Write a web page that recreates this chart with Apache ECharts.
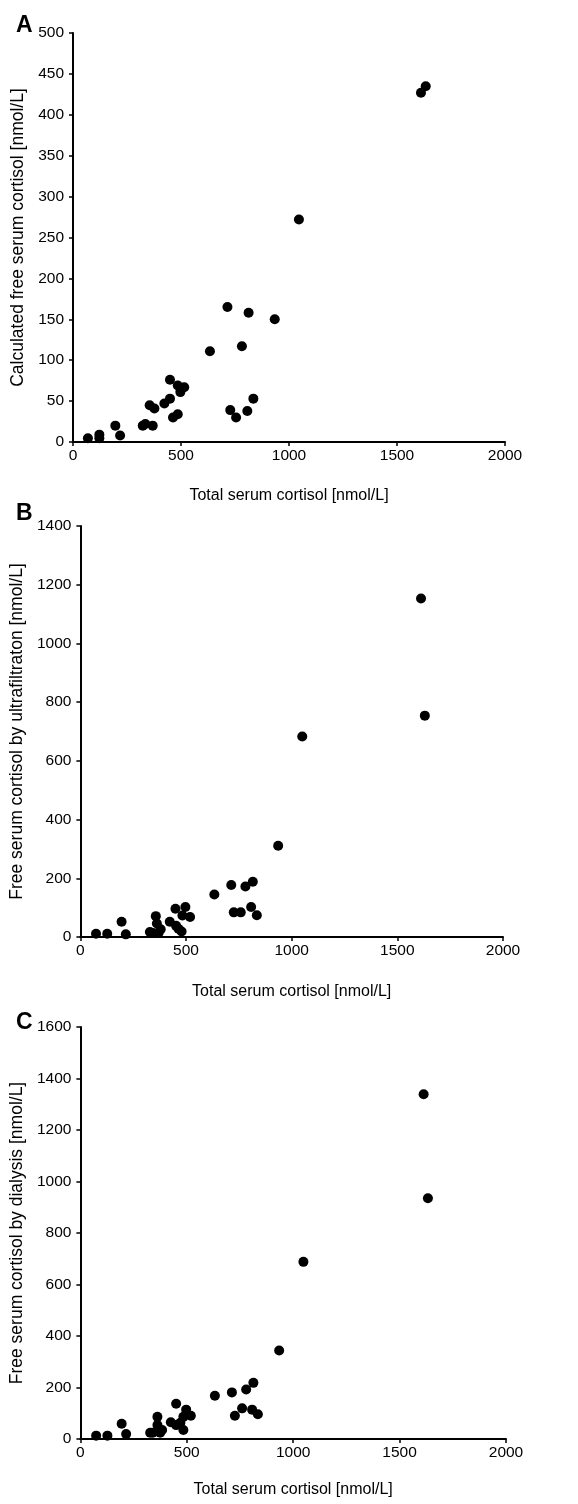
<!DOCTYPE html>
<html>
<head>
<meta charset="utf-8">
<script src="https://cdn.jsdelivr.net/npm/echarts@6/dist/echarts.min.js"></script>
<style>
  html, body { margin: 0; padding: 0; background: #fff; }
  #main { width: 578px; height: 1504px; }
</style>
</head>
<body>
<div id="main"></div>
<script>
// panel A - calculated free cortisol
var totalA = [69, 122, 122, 196, 218, 323, 335, 369, 355, 377, 423, 449, 449, 463, 485, 485, 497, 515, 634, 715, 728, 755, 782, 807, 813, 835, 934, 1046, 1611, 1633];
var freeCalc = [4.5, 9, 4.5, 20, 8, 20, 22, 20, 45, 41, 47, 53, 76, 30, 34, 69, 61, 67, 111, 165, 39, 30, 117, 38, 158, 53, 150, 272, 427, 435];

// panel B - ultrafiltration
var totalB = [74, 127, 195, 215, 329, 344, 357, 362, 370, 380, 423, 450, 453, 464, 479, 483, 497, 519, 634, 714, 726, 759, 781, 808, 816, 835, 936, 1050, 1612, 1630];
var freeUltra = [11, 11, 52, 9, 17, 14, 71, 46, 14, 26, 52, 96, 38, 28, 19, 73, 102, 68, 145, 177, 84, 84, 172, 102, 188, 74, 311, 683, 1153, 754];

// panel C - dialysis
var totalC = [74, 127, 194, 215, 328, 340, 362, 362, 375, 384, 425, 450, 450, 470, 484, 484, 497, 519, 632, 712, 726, 760, 779, 807, 813, 834, 934, 1048, 1613, 1633];
var freeDial = [13, 13, 59, 19, 24, 24, 86, 54, 24, 35, 65, 137, 54, 63, 35, 86, 114, 90, 168, 181, 90, 119, 192, 114, 218, 96, 344, 688, 1339, 935];

var xTicks = [0, 500, 1000, 1500, 2000];
var xName = 'Total serum cortisol [nmol/L]';
var yNames = ['Calculated free serum cortisol [nmol/L]', 'Free serum cortisol by ultrafiltraton [nmol/L]', 'Free serum cortisol by dialysis [nmol/L]'];
var yMax = [500, 1400, 1600];
var yStep = [50, 200, 200];
var letters = ['A', 'B', 'C'];

var font = 'Liberation Sans, Arial, sans-serif';
var grids = [
    { left: 73, right: 73, top: 33, height: 409 },
    { left: 79, right: 75, top: 526, height: 411 },
    { left: 80, right: 72, top: 1027, height: 412 }
];
var yGaps = [46, 50, 51];
var xGaps = [46, 47, 43];
var letterTops = [9, 497, 1006];

function pairs(xs, ys) {
    return xs.map(function (x, i) { return [x, ys[i]]; });
}
var seriesData = [pairs(totalA, freeCalc), pairs(totalB, freeUltra), pairs(totalC, freeDial)];

var axisLine = { show: true, lineStyle: { color: '#000', width: 2 } };
var axisTick = { show: true, inside: false, length: 4, lineStyle: { color: '#000', width: 1.5 } };
var plain = function (v) { return String(v); };   // no thousands separator

var option = {
    animation: false,
    backgroundColor: '#fff',
    title: [],
    grid: grids,
    xAxis: [],
    yAxis: [],
    series: []
};

for (var i = 0; i < 3; i++) {
    option.title.push({
        text: letters[i], left: 11, top: letterTops[i],
        textStyle: { fontFamily: font, fontSize: 23, fontWeight: 'bold', color: '#000' }
    });
    option.xAxis.push({
        type: 'value', gridIndex: i, min: xTicks[0], max: xTicks[xTicks.length - 1], interval: 500,
        name: xName, nameLocation: 'middle', nameGap: xGaps[i],
        nameTextStyle: { fontFamily: font, fontSize: 16, color: '#000' },
        axisLine: axisLine, axisTick: axisTick,
        axisLabel: { margin: 6, fontFamily: font, fontSize: 15.5, color: '#000', formatter: plain },
        splitLine: { show: false }
    });
    option.yAxis.push({
        type: 'value', gridIndex: i, min: 0, max: yMax[i], interval: yStep[i],
        name: yNames[i], nameLocation: 'middle', nameGap: yGaps[i],
        nameTextStyle: { fontFamily: font, fontSize: 17.5, color: '#000' },
        axisLine: axisLine, axisTick: axisTick,
        axisLabel: { margin: 9, fontFamily: font, fontSize: 15.5, color: '#000', formatter: plain },
        splitLine: { show: false }
    });
    option.series.push({
        type: 'scatter', xAxisIndex: i, yAxisIndex: i,
        symbol: 'circle', symbolSize: 10,
        itemStyle: { color: '#000', opacity: 1 },
        data: seriesData[i]
    });
}

var chart = echarts.init(document.getElementById('main'));
chart.setOption(option);
</script>
</body>
</html>
